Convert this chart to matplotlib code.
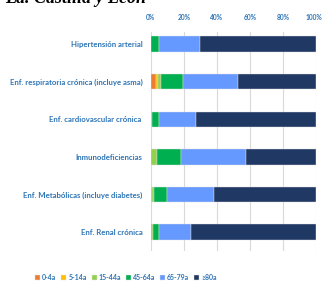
import numpy as np
import matplotlib.pyplot as plt
import matplotlib.transforms as mtransforms

categories = ['Hipertensión arterial',
              'Enf. respiratoria crónica (incluye asma)',
              'Enf. cardiovascular crónica ',
              'Inmunodeficiencias',
              'Enf. Metabólicas (incluye diabetes)',
              'Enf. Renal crónica']
age_groups = ['0-4a', '5-14a', '15-44a', '45-64a', '65-79a', '≥80a']
colors = ['#ED7D31', '#FFC000', '#92D050', '#00B050', '#6699FF', '#1F3864']

# percentages per age group, one list per category order above
p_0_4 = [0.0, 3.0, 0.6, 0.0, 0.6, 0.0]
p_5_14 = [0.0, 1.2, 0.0, 0.3, 0.2, 0.2]
p_15_44 = [0.2, 1.6, 0.2, 3.6, 1.0, 1.2]
p_45_64 = [4.6, 13.6, 4.3, 14.0, 7.6, 3.5]
p_65_79 = [24.9, 33.5, 22.2, 39.8, 29.0, 19.2]
p_80 = [70.3, 47.1, 72.7, 42.3, 61.6, 75.9]
series = [p_0_4, p_5_14, p_15_44, p_45_64, p_65_79, p_80]

blue = '#2E75B6'
plt.rcParams['font.family'] = ['Lato', 'DejaVu Sans']

fig = plt.figure(figsize=(3.23, 2.84), dpi=100)
ax = fig.add_axes([151 / 323, 1 - 251 / 284, 165 / 323, (251 - 32) / 284])

y = np.arange(len(categories))
left = np.zeros(len(categories))
for name, vals, col in zip(age_groups, series, colors):
    ax.barh(y, vals, left=left, height=0.41, color=col, label=name,
            edgecolor='#e0e0e0', linewidth=0.3, zorder=3)
    left += np.array(vals)

ax.set_xlim(0, 100)
ax.set_ylim(5.5, -0.32)
ax.set_xticks([0, 20, 40, 60, 80, 100])
ax.set_xticklabels(['0%', '20%', '40%', '60%', '80%', '100%'])
ax.xaxis.tick_top()
ax.set_yticks(y)
ax.set_yticklabels(categories)
ax.tick_params(axis='x', length=0, pad=8, labelsize=4.8, labelcolor=blue)
ax.tick_params(axis='y', length=0, pad=6, labelsize=5.6, labelcolor=blue)
for lab in ax.get_xticklabels() + ax.get_yticklabels():
    lab.set_fontweight('bold')
# keep the 100% label inside the figure
last = ax.get_xticklabels()[-1]
last.set_transform(last.get_transform() +
                   mtransforms.ScaledTranslation(-2 / 100, 0, fig.dpi_scale_trans))
ax.grid(axis='x', color='#d9d9d9', linewidth=0.8, zorder=0)
for s in ax.spines.values():
    s.set_visible(False)

fig.text(0.015, 1 - 3 / 284, 'La. Castilla y León', family='Liberation Serif',
         fontsize=13, fontweight='bold', style='italic', va='baseline')

leg = fig.legend(loc='lower center', bbox_to_anchor=(0.39, -0.012), ncol=6,
                 frameon=False, fontsize=5.0, handlelength=0.7,
                 handleheight=0.7, handletextpad=0.3, columnspacing=0.7)
for t in leg.get_texts():
    t.set_color(blue)
    t.set_fontweight('bold')

fig.savefig('out.png', dpi=100)
